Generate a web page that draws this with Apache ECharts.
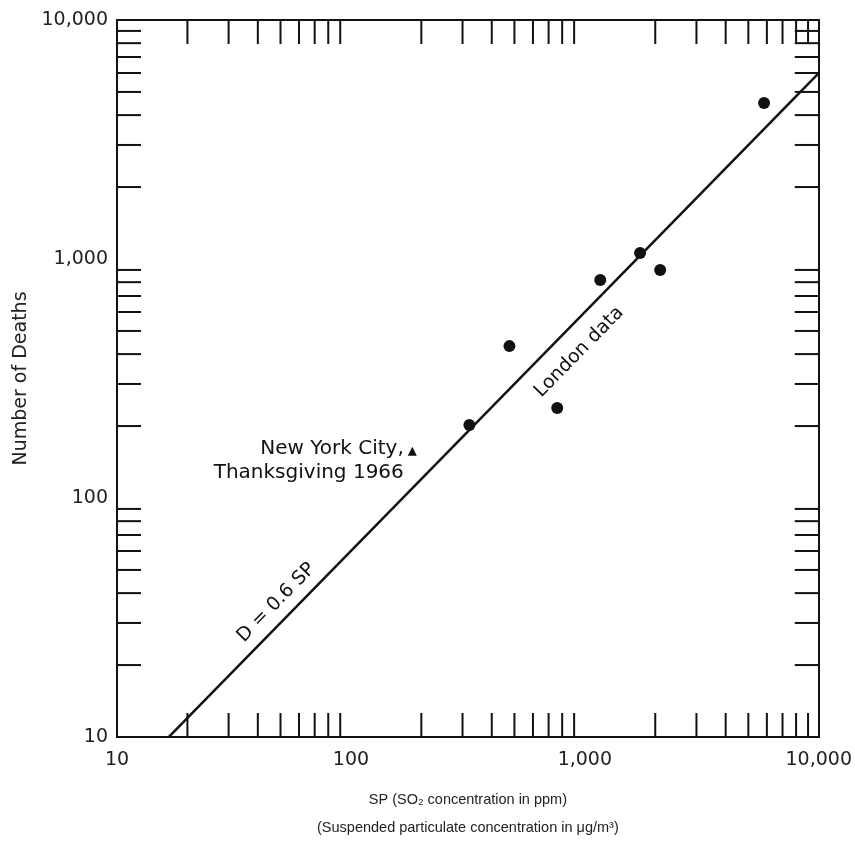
<!DOCTYPE html>
<html>
<head>
<meta charset="utf-8">
<script src="https://cdn.jsdelivr.net/npm/echarts@6/dist/echarts.min.js"></script>
<style>html,body{margin:0;padding:0;background:#fff}#c{width:855px;height:847px}</style>
</head>
<body>
<div id="c"></div>
<script>
// London data: [SP, deaths]
const londonData = [[321, 202], [476, 432], [762, 238], [1164, 817], [1722, 1059], [2099, 899], [5836, 4499]];
// New York City, Thanksgiving 1966
const nycData = [[183, 157]];
// Fitted line D = 0.6 SP
const lineCoef = 0.6;
const lineX = [16.67, 10000];
const axisMin = 10, axisMax = 10000;
const decades = [10, 100, 1000];
const minorMult = [2, 3, 4, 5, 6, 7, 8, 9];
const xTitle = 'SP (SO\u2082 concentration in ppm)\n(Suspended particulate concentration in \u03bcg/m\u00b3)';
const yTitle = 'Number of Deaths';
const nycLabel = 'New York City,\nThanksgiving 1966';
const lineLabel = 'D = 0.6 SP';
const londonLabel = 'London data';
const lineLabelPos = [[48, 36.5]];
const londonLabelPos = [[946, 408]];

const tickVals = [];
decades.forEach(d => minorMult.forEach(m => tickVals.push(d * m)));
const fitLine = lineX.map(x => [x, lineCoef * x]);

const font = 'DejaVu Sans';
const fmt = v => Number(v).toLocaleString('en-US');
const chart = echarts.init(document.getElementById('c'));

const TL = 24;
const tickStyle = { stroke: '#111', lineWidth: 2 };
function xTicks(params, api) {
  const v = api.value(0);
  const b = api.coord([v, axisMin]);
  const t = api.coord([v, axisMax]);
  return { type: 'group', children: [
    { type: 'line', shape: { x1: b[0], y1: b[1], x2: b[0], y2: b[1] - TL }, style: tickStyle },
    { type: 'line', shape: { x1: t[0], y1: t[1], x2: t[0], y2: t[1] + TL }, style: tickStyle }
  ]};
}
function yTicks(params, api) {
  const v = api.value(1);
  const l = api.coord([axisMin, v]);
  const r = api.coord([axisMax, v]);
  return { type: 'group', children: [
    { type: 'line', shape: { x1: l[0], y1: l[1], x2: l[0] + TL, y2: l[1] }, style: tickStyle },
    { type: 'line', shape: { x1: r[0], y1: r[1], x2: r[0] - TL, y2: r[1] }, style: tickStyle }
  ]};
}

const axisCommon = {
  type: 'log', logBase: 10, min: axisMin, max: axisMax,
  axisLine: { show: true, lineStyle: { color: '#111', width: 2 } },
  axisTick: { show: false }, splitLine: { show: false }, minorTick: { show: false }
};
const rot = Math.atan(239 / 234.3) * 180 / Math.PI;

chart.setOption({
  animation: false,
  backgroundColor: '#fff',
  grid: { left: 117, right: 35, top: 20, bottom: 110 },
  xAxis: [
    Object.assign({}, axisCommon, {
      position: 'bottom',
      axisLabel: { formatter: fmt, margin: 14, fontFamily: font, fontSize: 19, color: '#222' },
      name: xTitle, nameLocation: 'middle', nameGap: 49,
      nameTextStyle: { fontFamily: 'Liberation Sans', fontSize: 14.5, color: '#222', lineHeight: 28 }
    }),
    Object.assign({}, axisCommon, { position: 'top', axisLabel: { show: false } })
  ],
  yAxis: [
    Object.assign({}, axisCommon, {
      position: 'left',
      axisLabel: { formatter: fmt, margin: 9, fontFamily: font, fontSize: 19, color: '#222' },
      name: yTitle, nameLocation: 'middle', nameGap: 80, nameRotate: 90,
      nameTextStyle: { fontFamily: font, fontSize: 19, color: '#222' }
    }),
    Object.assign({}, axisCommon, { position: 'right', axisLabel: { show: false } })
  ],
  series: [
    { type: 'custom', renderItem: xTicks, data: tickVals.map(v => [v, axisMin]), silent: true, z: 1 },
    { type: 'custom', renderItem: yTicks, data: tickVals.map(v => [axisMin, v]), silent: true, z: 1 },
    { type: 'line', data: fitLine, symbol: 'none', lineStyle: { color: '#111', width: 2.5 }, z: 2 },
    { type: 'scatter', data: londonData, symbol: 'circle', symbolSize: 12,
      itemStyle: { color: '#111', opacity: 1 }, z: 3 },
    { type: 'scatter', data: nycData, symbol: 'triangle', symbolSize: 9,
      itemStyle: { color: '#111', opacity: 1 }, z: 3,
      label: { show: true, formatter: nycLabel, position: 'left', distance: 4, align: 'right',
        offset: [0, 10], fontFamily: font, fontSize: 20, color: '#111', lineHeight: 24 } },
    { type: 'scatter', data: lineLabelPos, symbolSize: 0, itemStyle: { opacity: 1 }, z: 3,
      label: { show: true, formatter: lineLabel, position: 'inside', rotate: rot,
        fontFamily: font, fontSize: 19, color: '#111' } },
    { type: 'scatter', data: londonLabelPos, symbolSize: 0, itemStyle: { opacity: 1 }, z: 3,
      label: { show: true, formatter: londonLabel, position: 'inside', rotate: rot,
        fontFamily: font, fontSize: 19, color: '#111' } }
  ]
});
</script>
</body>
</html>
